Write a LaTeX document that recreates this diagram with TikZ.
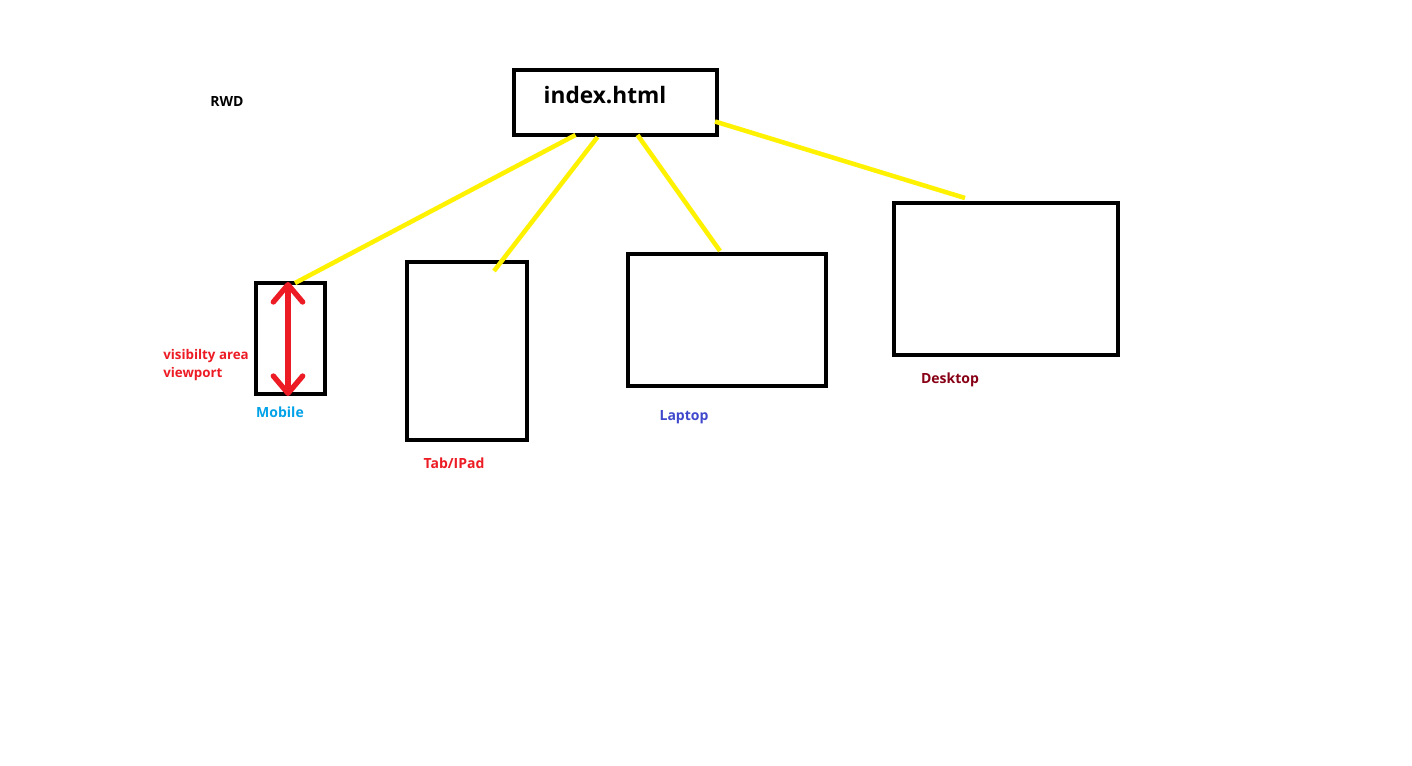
\documentclass[tikz,border=0pt]{standalone}
\usepackage{fontspec}
\setmainfont{Open Sans}
\usepackage{tikz}
\usetikzlibrary{calc}
\usetikzlibrary{arrows.meta}
\usetikzlibrary{positioning}
\definecolor{paintred}{RGB}{237, 28, 36}
\definecolor{paintyellow}{RGB}{255, 242, 0}
\definecolor{paintblue}{RGB}{0, 162, 232}
\definecolor{paintindigo}{RGB}{63, 72, 204}
\definecolor{paintmaroon}{RGB}{136, 0, 21}
\tikzset{
  device/.style={draw=black, line width=3pt, inner sep=0pt, outer sep=0pt},
  wire/.style={paintyellow, line width=3.4pt},
  tag/.style={font=\bfseries\fontsize{10.5}{12}\selectfont, inner sep=0pt}
}

\begin{document}
\begin{tikzpicture}[x=0.75pt, y=-0.75pt]
            \useasboundingbox[fill=white] (0,0) rectangle (1412,765);
            % page and devices
            \node[device, minimum width=152.25pt, minimum height=48.75pt] (index)   at ( 615.5, 102.5) {};
            \node[device, minimum width=51.75pt,  minimum height=83.25pt] (mobile)  at ( 290.5, 338.5) {};
            \node[device, minimum width=90pt,     minimum height=133.5pt] (tab)     at ( 467.0, 351.0) {};
            \node[device, minimum width=148.5pt,  minimum height=99pt]    (laptop)  at ( 727.0, 320.0) {};
            \node[device, minimum width=168pt,    minimum height=114pt]   (desktop) at (1006.0, 279.0) {};
            \node[inner sep=0pt, font=\bfseries\fontsize{17}{20}\selectfont] (title) at (605, 95) {index.html};
            % yellow links
            \coordinate (tabend)  at (494, 271);
            \coordinate (deskend) at (965, 198);
            \draw[wire] ($(index.south)+(-40,0)$) -- ($(mobile.north)+(4.5,0)$);
            \draw[wire] ($(index.south)+(-18,2)$) -- (tabend);
            \draw[wire] ($(index.south)+(22,0)$)  -- ($(laptop.north)+(-7,-3)$);
            \draw[wire] ($(index.east)+(-2,19)$)  -- (deskend);
            % viewport arrow
            \draw[paintred, line width=4pt, line cap=round,
                  {Straight Barb[round, length=13pt, width=22pt]}-{Straight Barb[round, length=13pt, width=22pt]}]
                 ($(mobile.north)+(-2.5,-1)$) -- ($(mobile.south)+(-2.5,2)$);
            % labels
            \node[tag, text=black] (rwd) at (227, 101) {RWD};
            \node[tag, text=paintred, align=left, anchor=north west, font=\bfseries\fontsize{10}{12}\selectfont]
                 (viewtext) at (163, 349) {visibilty area\\[1.5pt]viewport};
            \node[tag, text=paintblue]   (mobiletext)  at (280, 412) {Mobile};
            \node[tag, text=paintred]    (tabtext)     at (454, 463) {Tab/IPad};
            \node[tag, text=paintindigo] (laptoptext)  at (684, 417) {Laptop};
            \node[tag, text=paintmaroon] (desktoptext) at (950, 380) {Desktop};
        \end{tikzpicture}
\end{document}
